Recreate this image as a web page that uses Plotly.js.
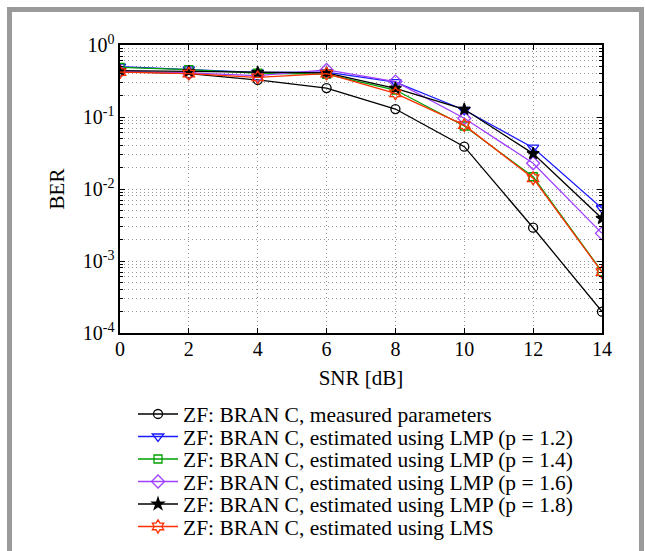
<!DOCTYPE html>
<html>
<head>
<meta charset="utf-8">
<script src="https://cdn.plot.ly/plotly-3.0.1.min.js"></script>
<style>html,body{margin:0;padding:0;background:#fff;}#chart{width:645px;height:551px;}</style>
</head>
<body>
<div id="chart"></div>
<script>
const snr = [0, 2, 4, 6, 8, 10, 12, 14];
const berMeasured = [0.426, 0.40, 0.327, 0.252, 0.129, 0.0387, 0.0029, 0.000198];
const berLmp12 = [0.50, 0.46, 0.415, 0.42, 0.305, 0.125, 0.0375, 0.0054];
const berLmp14 = [0.49, 0.455, 0.405, 0.395, 0.237, 0.075, 0.0148, 0.00071];
const berLmp16 = [0.43, 0.41, 0.375, 0.45, 0.31, 0.096, 0.0228, 0.00242];
const berLmp18 = [0.44, 0.43, 0.415, 0.41, 0.25, 0.128, 0.031, 0.0039];
const berLms = [0.42, 0.40, 0.355, 0.40, 0.213, 0.077, 0.0141, 0.00070];
const seriesNames = [
  'ZF: BRAN C, measured parameters',
  'ZF: BRAN C, estimated using LMP (p = 1.2)',
  'ZF: BRAN C, estimated using LMP (p = 1.4)',
  'ZF: BRAN C, estimated using LMP (p = 1.6)',
  'ZF: BRAN C, estimated using LMP (p = 1.8)',
  'ZF: BRAN C, estimated using LMS'
];
const yTickVals = [1e-4, 1e-3, 1e-2, 1e-1, 1];
const yTickText = ['10<sup>-4</sup>', '10<sup>-3</sup>', '10<sup>-2</sup>', '10<sup>-1</sup>', '10<sup>0</sup>'];
const xTickVals = [0, 2, 4, 6, 8, 10, 12, 14];

const series = [berMeasured, berLmp12, berLmp14, berLmp16, berLmp18, berLms];
const colors = ['#000000', '#1a1aff', '#00a000', '#a040ff', '#000000', '#ff3000'];
const symbols = ['circle-open', 'triangle-down-open', 'square-open', 'diamond-open', 'star', 'hexagram-open'];
const sizes = [9, 10, 8, 10, 9, 10];

const legendIds = ['legend', 'legend2', 'legend3', 'legend4', 'legend5', 'legend6'];
const traces = series.map((y, i) => ({
  x: snr, y: y, name: seriesNames[i], type: 'scatter', mode: 'lines+markers',
  legend: legendIds[i],
  line: {color: colors[i], width: 1.3},
  marker: {symbol: symbols[i], color: colors[i], size: sizes[i], line: {color: colors[i], width: 1.3}}
}));

const font = 'Liberation Serif, Times New Roman, serif';
const layout = {
  width: 645, height: 551,
  margin: {l: 120, r: 43, t: 45, b: 218},
  paper_bgcolor: '#fff', plot_bgcolor: '#fff',
  font: {family: font, color: '#000', size: 21},
  showlegend: true,
  xaxis: {
    range: [0, 14], tickmode: 'array', tickvals: xTickVals,
    showline: true, linecolor: '#000', linewidth: 1.6, mirror: 'allticks',
    ticks: 'inside', ticklen: 5, tickcolor: '#000',
    showgrid: true, gridcolor: '#999', griddash: '1px,3px', gridwidth: 1,
    zeroline: false, ticklabelstandoff: -3,
    tickfont: {family: font, size: 20},
    title: {text: 'SNR [dB]', font: {family: font, size: 21}, standoff: 12}
  },
  yaxis: {
    type: 'log', range: [-4, 0], tickmode: 'array', tickvals: yTickVals, ticktext: yTickText,
    showline: true, linecolor: '#000', linewidth: 1.6, mirror: 'allticks',
    ticks: 'inside', ticklen: 5, tickcolor: '#000',
    showgrid: true, gridcolor: '#999', griddash: '1px,3px', gridwidth: 1,
    zeroline: false,
    tickfont: {family: font, size: 20},
    minor: {dtick: 'D1', showgrid: true, gridcolor: '#999', griddash: '1px,3px', gridwidth: 1, ticks: 'inside', ticklen: 3, tickcolor: '#000'},
    title: {text: 'BER', font: {family: font, size: 21}, standoff: 12}
  },
  shapes: [{
    type: 'rect', xref: 'paper', yref: 'paper',
    x0: (9.5 - 120) / 482, x1: (641.5 - 120) / 482,
    y0: (333 - 570) / 288, y1: (333 - 9.5) / 288,
    line: {color: '#9a9a9a', width: 5}, fillcolor: 'rgba(0,0,0,0)', layer: 'below'
  }]
};

const rowCenters = [414, 436.5, 459, 481.5, 504, 526.5];
legendIds.forEach((id, i) => {
  layout[id] = {
    x: 0.027, xanchor: 'left', xref: 'paper',
    y: 1 - rowCenters[i] / 551, yref: 'container', yanchor: 'middle',
    font: {family: font, size: 21.5, color: '#000'},
    bgcolor: 'rgba(0,0,0,0)', itemwidth: 40, borderwidth: 0
  };
});

Plotly.newPlot('chart', traces, layout, {staticPlot: true, displayModeBar: false});
</script>
</body>
</html>
